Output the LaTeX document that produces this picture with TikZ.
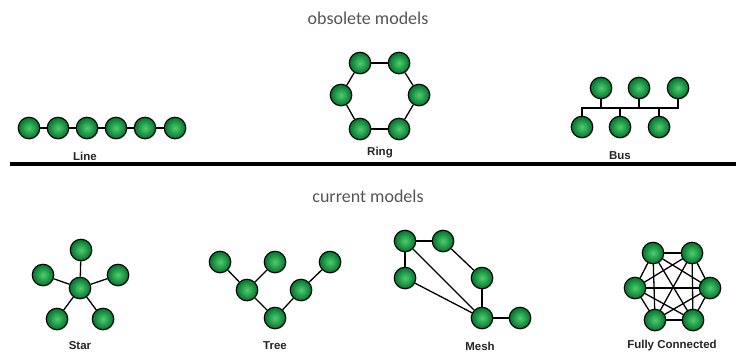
\documentclass[tikz,border=0pt]{standalone}
\usepackage{fontspec}
\setmainfont{Liberation Sans}
\newfontfamily\titlefont{Carlito}
\usetikzlibrary{shadows,backgrounds}
\pgfdeclarelayer{edgelayer}
\pgfsetlayers{background,edgelayer,main}
\definecolor{ndin}{RGB}{80,205,110}
\definecolor{ndout}{RGB}{0,115,45}
\definecolor{titlegray}{RGB}{85,85,85}
\tikzset{
  nd/.style={circle, minimum size=21.5pt, inner sep=0pt, draw=black, line width=1.1pt,
    inner color=ndin, outer color=ndout,
    drop shadow={opacity=0.25, shadow xshift=0.8pt, shadow yshift=-1pt}},
  lnk/.style={draw=black, line width=1.3pt},
  lbl/.style={font=\bfseries\fontsize{11.5}{13}\selectfont, text=black!85},
  ttl/.style={font=\titlefont\fontsize{18}{21}\selectfont, text=titlegray}
}
\begin{document}
\begin{tikzpicture}[x=1pt,y=-1pt]
\useasboundingbox (0,0) rectangle (736,352);
\begin{pgfonlayer}{background}
\fill[white] (0,0) rectangle (736,352);
\end{pgfonlayer}
% titles
\node[ttl] (t1) at (368,18) {obsolete models};
\node[ttl] (t2) at (368,196) {current models};
% divider
\coordinate (dl) at (10,164);
\coordinate (dr) at (736,164);
\draw[line width=3.5pt] (dl) -- (dr);
% Line
\foreach \i/\x in {1/29,2/58,3/87,4/116,5/145,6/175}{\node[nd] (l\i) at (\x,128) {};}
\node[lbl] (lineL) at (85,156) {Line};
% Ring
\node[nd] (r1) at (360,63) {};
\node[nd] (r2) at (399,63) {};
\node[nd] (r3) at (419,95) {};
\node[nd] (r4) at (399,129) {};
\node[nd] (r5) at (360,129) {};
\node[nd] (r6) at (341,95) {};
\node[lbl] (ringL) at (380,153) {Ring};
% Bus
\node[nd] (bt1) at (601,88) {};
\node[nd] (bt2) at (639,88) {};
\node[nd] (bt3) at (678,88) {};
\node[nd] (bb1) at (582,127) {};
\node[nd] (bb2) at (620,127) {};
\node[nd] (bb3) at (659,127) {};
\coordinate (busL) at (582,108);
\coordinate (busR) at (678,108);
\node[lbl] (busLb) at (620,156) {Bus};
% Star
\node[nd] (sc) at (80,288) {};
\node[nd] (s1) at (81,250) {};
\node[nd] (s2) at (43,275) {};
\node[nd] (s3) at (118,275) {};
\node[nd] (s4) at (57,319) {};
\node[nd] (s5) at (103,319) {};
\node[lbl] (starL) at (80,346) {Star};
% Tree
\node[nd] (tr1) at (220,262) {};
\node[nd] (tr2) at (275,262) {};
\node[nd] (tr3) at (330,262) {};
\node[nd] (tr4) at (247,290) {};
\node[nd] (tr5) at (301,290) {};
\node[nd] (tr6) at (275,318) {};
\node[lbl] (treeL) at (275,346) {Tree};
% Mesh
\node[nd] (ma) at (405,241) {};
\node[nd] (mb) at (443,241) {};
\node[nd] (mc) at (405,278) {};
\node[nd] (md) at (482,278) {};
\node[nd] (me) at (482,318) {};
\node[nd] (mf) at (520,318) {};
\node[lbl] (meshL) at (480,346) {Mesh};
% Fully connected
\node[nd] (f1) at (653,253) {};
\node[nd] (f2) at (692,253) {};
\node[nd] (f3) at (710,288) {};
\node[nd] (f4) at (693,320) {};
\node[nd] (f5) at (655,320) {};
\node[nd] (f6) at (635,288) {};
\node[lbl] (fcL) at (672,346) {Fully Connected};
% links
\begin{pgfonlayer}{edgelayer}
\foreach \a/\b in {l1/l2,l2/l3,l3/l4,l4/l5,l5/l6,
  r1/r2,r2/r3,r3/r4,r4/r5,r5/r6,r6/r1,
  sc/s1,sc/s2,sc/s3,sc/s4,sc/s5,
  tr1/tr4,tr2/tr4,tr4/tr6,tr6/tr5,tr5/tr3,
  ma/mb,ma/mc,ma/me,mb/md,mc/me,md/me,me/mf}
  {\draw[lnk] (\a) -- (\b);}
\foreach \a/\b in {f1/f2,f1/f3,f1/f4,f1/f5,f1/f6,f2/f3,f2/f4,f2/f5,f2/f6,f3/f4,f3/f5,f3/f6,f4/f5,f4/f6,f5/f6}
  {\draw[lnk] (\a.center) -- (\b.center);}
\draw[lnk] (bb1) -- (busL) -- (busR) -- (bt3);
\draw[lnk] (bt1) -- (bt1|-busL);
\draw[lnk] (bt2) -- (bt2|-busL);
\draw[lnk] (bb2) -- (bb2|-busL);
\draw[lnk] (bb3) -- (bb3|-busL);
\end{pgfonlayer}
\end{tikzpicture}
\end{document}
